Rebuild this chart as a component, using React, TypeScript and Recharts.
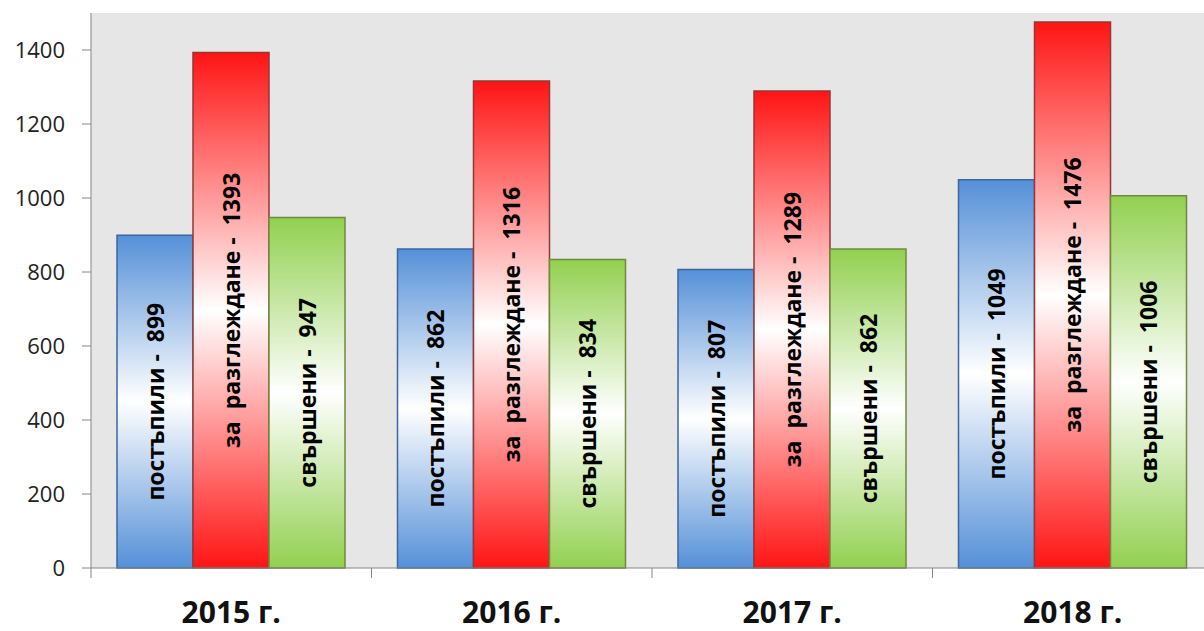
import React from 'react'
import { BarChart, Bar, XAxis, YAxis, CartesianGrid, LabelList } from 'recharts'

const years = ['2015 г.', '2016 г.', '2017 г.', '2018 г.']
const received = [899, 862, 807, 1049]
const pending = [1393, 1316, 1289, 1476]
const completed = [947, 834, 862, 1006]
const seriesNames = ['постъпили', 'за  разглеждане', 'свършени']
const yTicks = [0, 200, 400, 600, 800, 1000, 1200, 1400]

const data = years.map((year, i) => ({
  year,
  received: received[i],
  pending: pending[i],
  completed: completed[i],
}))

const FONT = '"Open Sans", "DejaVu Sans", sans-serif'

const makeLabel = (name: string) => (props: any) => {
  const { x, y, width, height, value } = props
  const cx = x + width / 2
  const cy = y + height / 2
  return (
    <text
      x={cx}
      y={cy}
      transform={`rotate(-90 ${cx} ${cy})`}
      textAnchor="middle"
      dominantBaseline="central"
      fontFamily={FONT}
      fontWeight={700}
      fontSize={23}
      fill="#000"
      style={{ whiteSpace: 'pre' }}
    >
      {`${name} -  ${value}`}
    </text>
  )
}

function XTick(props: any) {
  const { x, y, payload } = props
  const half = payload.offset ?? 0
  return (
    <g>
      <line x1={x - half} x2={x - half} y1={y} y2={y + 10} stroke="#868686" strokeWidth={1} />
      <text x={x} y={y + 55} textAnchor="middle" fontFamily={FONT} fontWeight={700} fontSize={30} fill="#111">
        {payload.value}
      </text>
    </g>
  )
}

function Gradient({ id, color }: { id: string; color: string }) {
  return (
    <linearGradient id={id} x1="0" y1="0" x2="0" y2="1">
      <stop offset="0%" stopColor={color} />
      <stop offset="50%" stopColor="#ffffff" />
      <stop offset="100%" stopColor={color} />
    </linearGradient>
  )
}

export default function App() {
  return (
    <div style={{ position: 'absolute', left: 0, top: 0, width: 1204, height: 631, overflow: 'hidden', background: '#fff' }}>
      <BarChart
        width={1213}
        height={631}
        data={data}
        margin={{ top: 13, right: 0, bottom: 0, left: 0 }}
        barCategoryGap={26}
        barGap={0}
      >
        <defs>
          <Gradient id="gBlue" color="#5590d8" />
          <Gradient id="gRed" color="#ff1414" />
          <Gradient id="gGreen" color="#92d050" />
        </defs>
        <CartesianGrid horizontal={false} vertical={false} fill="#e6e6e6" stroke="none" />
        <XAxis
          dataKey="year"
          height={63}
          axisLine={{ stroke: '#868686' }}
          tickLine={false}
          tickSize={0}
          tickMargin={0}
          tick={<XTick />}
          interval={0}
        />
        <YAxis
          width={91}
          domain={[0, 1500]}
          ticks={yTicks}
          axisLine={{ stroke: '#868686' }}
          tickLine={{ stroke: '#868686' }}
          tickSize={9}
          tickMargin={17}
          tick={{ fill: '#222', fontSize: 22, fontFamily: FONT }}
        />
        <Bar dataKey="received" fill="url(#gBlue)" stroke="#3d669f" strokeWidth={1.5} isAnimationActive={false}>
          <LabelList dataKey="received" content={makeLabel(seriesNames[0])} />
        </Bar>
        <Bar dataKey="pending" fill="url(#gRed)" stroke="#953735" strokeWidth={1.5} isAnimationActive={false}>
          <LabelList dataKey="pending" content={makeLabel(seriesNames[1])} />
        </Bar>
        <Bar dataKey="completed" fill="url(#gGreen)" stroke="#71893f" strokeWidth={1.5} isAnimationActive={false}>
          <LabelList dataKey="completed" content={makeLabel(seriesNames[2])} />
        </Bar>
      </BarChart>
    </div>
  )
}
